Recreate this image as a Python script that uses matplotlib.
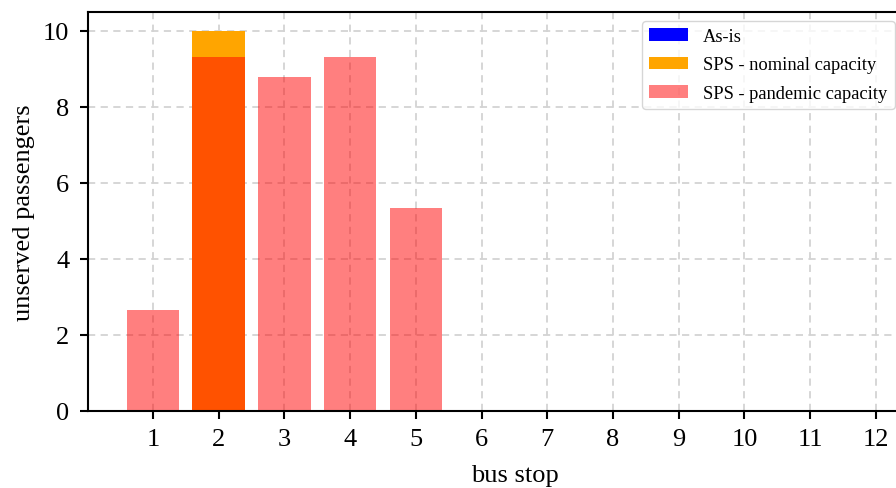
import matplotlib.pyplot as plt
import numpy as np

plt.rcParams['font.family'] = ['Liberation Serif', 'DejaVu Serif']

bus_stops = list(range(1, 13))
as_is = [0, 0, 0, 0, 0, 0, 0, 0, 0, 0, 0, 0]
sps_nominal = [0, 10, 0, 0, 0, 0, 0, 0, 0, 0, 0, 0]
sps_pandemic = [2.65, 9.32, 8.8, 9.32, 5.34, 0, 0, 0, 0, 0, 0, 0]

fig = plt.figure(figsize=(8.96, 4.89), dpi=100)
# axes run past the right border like in the original export
ax = fig.add_axes([0.0982, 0.1575, 0.952, 0.816])

ax.bar(bus_stops, as_is, width=0.8, color='blue', label='As-is')
ax.bar(bus_stops, sps_nominal, width=0.8, color='orange', label='SPS - nominal capacity')
ax.bar(bus_stops, sps_pandemic, width=0.8, color='red', alpha=0.5, label='SPS - pandemic capacity')

ax.set_xticks(bus_stops)
ax.set_ylim(0, 10.5)
ax.set_yticks([0, 2, 4, 6, 8, 10])
ax.grid(True, linestyle='--', color='lightgray', linewidth=1.3, dashes=(4, 3))
ax.set_axisbelow(True)
ax.tick_params(labelsize=19, length=5.5, width=1.5)
ax.tick_params(axis='x', pad=7)
ax.tick_params(axis='y', pad=8)
for sp in ax.spines.values():
    sp.set_linewidth(1.5)

ax.set_xlabel('bus stop', fontsize=19, labelpad=10)
ax.set_ylabel('unserved passengers', fontsize=19, labelpad=6)

ax.legend(loc='upper left', bbox_to_anchor=(642 / 896, 1 - 22 / 489),
          bbox_transform=fig.transFigure, fontsize=13.3, borderaxespad=0,
          handlelength=2.1, labelspacing=0.6)

fig.savefig('out.png', dpi=100)
